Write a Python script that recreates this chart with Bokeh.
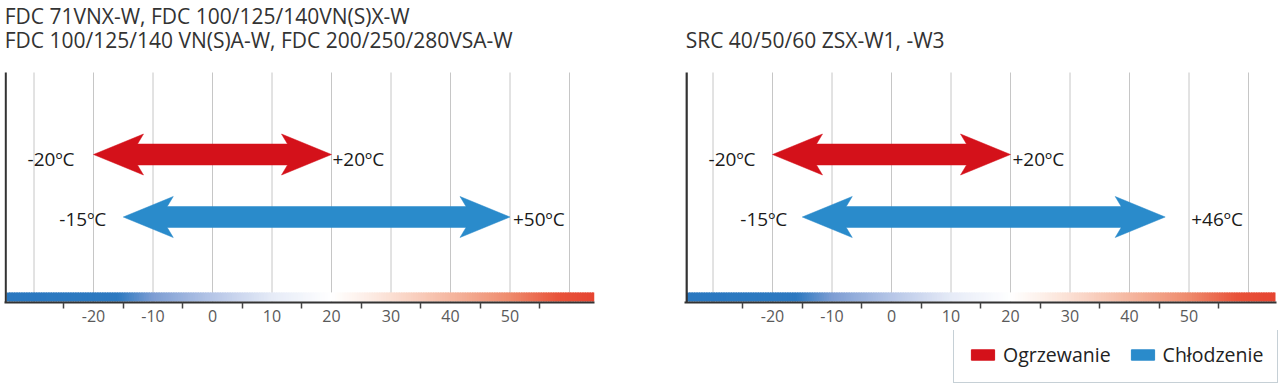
import numpy as np
from bokeh.plotting import figure
from bokeh.models import Range1d, FixedTicker, Legend, LegendItem, ColumnDataSource
from bokeh.layouts import row, column
from bokeh.embed import file_html
from bokeh.resources import INLINE
from bokeh.core.properties import value

# ---------------- data ----------------
left_titles = ["FDC 71VNX-W, FDC 100/125/140VN(S)X-W",
               "FDC 100/125/140 VN(S)A-W, FDC 200/250/280VSA-W"]
right_titles = ["SRC 40/50/60 ZSX-W1, -W3"]
modes = ["Ogrzewanie", "Chłodzenie"]          # heating, cooling
left_min = [-20, -15]
left_max = [20, 50]
right_min = [-20, -15]
right_max = [20, 46]
tick_labels = [-20, -10, 0, 10, 20, 30, 40, 50]
tick_marks = [-25, -15, -5, 5, 15, 25, 35, 45, 55]
grid_x = [-30, -20, -10, 0, 10, 20, 30, 40, 50, 60]

# ---------------- style ----------------
RED = "#d4111a"
BLUE = "#2a8bcb"
FONT = value("Open Sans")
PX = 5.95                      # px per degree
FH = 302                       # frame height (y units = px from axis line)
ROW_Y = [148.0, 85.5]          # arrow centre lines
LAB_Y = [144.0, 84.0]          # label baselines (as rendered)
HEAD_L, NOTCH, HEAD_H, SHAFT_H = 50 / PX, 44 / PX, 20.5, 10.5

grad_stops_x = [-40, -16, -10, 0, 10, 20, 25, 30, 40, 50, 58, 70]
grad_stops_c = ["#2a78c0", "#2d79c0", "#7d9dd3", "#b6c6e7", "#e6ebf7", "#ffffff",
                "#fdf1eb", "#fbdfd3", "#f5b7a0", "#ee8a6c", "#e8533a", "#e3382a"]


def hex2rgb(h):
    return [int(h[i:i + 2], 16) for i in (1, 3, 5)]


def arrow(lo, hi, yc):
    xs = [lo, lo + HEAD_L, lo + NOTCH, hi - NOTCH, hi - HEAD_L, hi,
          hi - HEAD_L, hi - NOTCH, lo + NOTCH, lo + HEAD_L]
    ys = [yc, yc + HEAD_H, yc + SHAFT_H, yc + SHAFT_H, yc + HEAD_H, yc,
          yc - HEAD_H, yc - SHAFT_H, yc - SHAFT_H, yc - HEAD_H]
    return xs, ys


def panel(x0, fw, mbl, mbr, titles, title_y, mins, maxs, lo_off, hi_off,
          vline_px, bar_l_px, bar_r_px):
    x1 = x0 + fw / PX
    p = figure(frame_width=fw, frame_height=FH, x_range=Range1d(x0, x1),
               y_range=Range1d(0, FH), y_axis_location=None,
               output_backend="svg", toolbar_location=None,
               min_border_left=mbl, min_border_right=mbr, min_border_top=0,
               min_border_bottom=28, outline_line_color=None,
               background_fill_color="white", border_fill_color="white")
    p.xgrid.visible = False
    p.ygrid.visible = False

    # grid lines
    p.segment(x0=grid_x, x1=grid_x, y0=[0] * len(grid_x), y1=[230] * len(grid_x),
              line_color="#c6c6c6", line_width=1)

    # colour gradient strip
    n = 240
    bl, br = x0 + bar_l_px / PX, x1 - bar_r_px / PX
    edges = np.linspace(bl, br, n + 1)
    mids = (edges[:-1] + edges[1:]) / 2
    rgb = np.array([hex2rgb(c) for c in grad_stops_c], dtype=float)
    cols = []
    for m in mids:
        r, g, b = (int(round(np.interp(m, grad_stops_x, rgb[:, k]))) for k in range(3))
        cols.append("#%02x%02x%02x" % (r, g, b))
    rights = np.minimum(edges[1:] + (br - bl) / n * 0.6, br)
    p.quad(left=edges[:-1], right=rights, bottom=1, top=10,
           fill_color=cols, line_color=None)

    # vertical axis line
    vx = x0 + vline_px / PX
    p.segment(x0=[vx], x1=[vx], y0=[0], y1=[230], line_color="#333333", line_width=2.2)

    # arrows
    for i, (lo, hi, col) in enumerate(zip(mins, maxs, [RED, BLUE])):
        xs, ys = arrow(lo, hi, ROW_Y[i])
        p.patches(xs=[xs], ys=[ys], fill_color=col, line_color=col, line_width=0.5)

    # temperature labels
    lab = ColumnDataSource(dict(x=list(mins), y=LAB_Y,
                                t=["%dºC" % v for v in mins], off=lo_off))
    p.text(x="x", y="y", text="t", x_offset="off", source=lab, text_font=FONT,
           text_font_size="19px", text_color="#1a1a1a", text_align="right",
           text_baseline="alphabetic")
    lab2 = ColumnDataSource(dict(x=list(maxs), y=LAB_Y,
                                 t=["%+dºC" % v for v in maxs], off=hi_off))
    p.text(x="x", y="y", text="t", x_offset="off", source=lab2, text_font=FONT,
           text_font_size="19px", text_color="#1a1a1a", text_align="left",
           text_baseline="alphabetic")

    # titles
    p.text(x=[vx] * len(titles), y=title_y, text=titles, text_font=FONT,
           text_font_size="21px", text_color="#333333", text_align="left",
           text_baseline="alphabetic", x_offset=-1)

    # x axis
    ax = p.xaxis[0]
    ax.ticker = FixedTicker(ticks=tick_labels, minor_ticks=tick_marks)
    ax.major_label_overrides = {v: str(v) for v in tick_labels}
    ax.major_tick_line_color = None
    ax.major_tick_out = 0
    ax.major_tick_in = 0
    ax.minor_tick_out = 6
    ax.minor_tick_in = 0
    ax.minor_tick_line_color = "#444444"
    ax.minor_tick_line_width = 1.5
    ax.axis_line_color = "#333333"
    ax.axis_line_width = 2.2
    ax.major_label_standoff = 1
    ax.major_label_text_font = "Open Sans"
    ax.major_label_text_font_size = "16px"
    ax.major_label_text_color = "#5a5a5a"
    return p


# left panel: frame page x 4..594 ; right panel: frame page x 684..1276
left = panel((4 - 212) / PX, 590, 4, 90, left_titles, [287, 263], left_min, left_max,
             [-19, -17], [1, 3], 1.2, 2, 0)
right = panel((684 - 891) / PX, 592, 0, 4, right_titles, [263], right_min, right_max,
              [-17, -15], [2, 26], 2.2, 2, 1)

# legend strip below the right panel
lf = figure(frame_width=596, frame_height=56, x_range=Range1d(100, 101), y_range=Range1d(0, 1),
            min_border_left=0, min_border_right=0, min_border_top=0, min_border_bottom=0,
            x_axis_location=None, y_axis_location=None, outline_line_color=None,
            output_backend="svg", toolbar_location=None,
            background_fill_color="white", border_fill_color="white")
lf.xgrid.visible = False
lf.ygrid.visible = False
leg_rends = []
for i, col in enumerate([RED, BLUE]):
    r = lf.quad(left=[right_min[i]], right=[right_max[i]], bottom=[0], top=[1],
                fill_color=col, line_color=col)
    r.visible = False
    leg_rends.append(r)
lg = Legend(items=[LegendItem(label=modes[0], renderers=[leg_rends[0]]),
                   LegendItem(label=modes[1], renderers=[leg_rends[1]])],
            orientation="horizontal", location=(269, 3), margin=0,
            padding=14, spacing=17, glyph_width=29, glyph_height=13,
            label_standoff=6, label_height=22, label_text_font="Open Sans",
            label_text_font_size="19.5px", label_text_color="#222222",
            border_line_color="#8ea2ae", border_line_width=1.5,
            background_fill_color="white", background_fill_alpha=1)
lf.add_layout(lg)

layout = row(left, column(right, lf))
open("out.html", "w").write(file_html(layout, INLINE))
